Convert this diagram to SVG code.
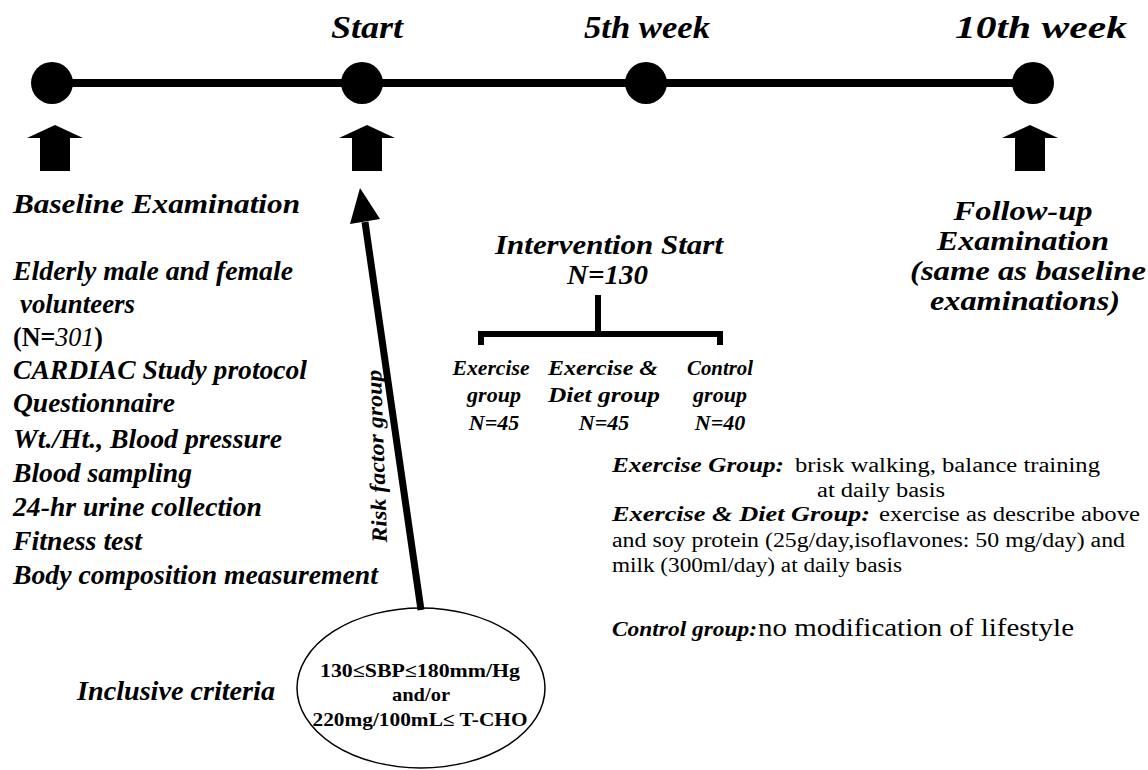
<svg xmlns="http://www.w3.org/2000/svg" width="1148" height="770" viewBox="0 0 1148 770">
<style>
text{font-family:"Liberation Serif","Times New Roman",serif;fill:#000}
.bi{font-weight:bold;font-style:italic}
.i{font-style:italic;font-weight:normal}
.r{font-weight:normal;font-style:normal;font-size:20px}
.b{font-weight:bold;font-size:19px}
.t{font-size:32px}
.m{font-size:27px}
.f{font-size:28px}
.g{font-size:22px}
.lab{font-size:22px}
.ctl{font-size:25px}
</style>
<defs>
<path id="blk" d="M0,0 L28,13 L15,13 L15,46 L-15,46 L-15,13 L-28,13 Z" fill="#000"/>
</defs>
<rect width="1148" height="770" fill="#fff"/>
<g id="connectors">
<line x1="52" y1="83" x2="1033" y2="83" stroke="#000" stroke-width="8"/>
<line x1="421" y1="610" x2="365" y2="222" stroke="#000" stroke-width="7"/>
<polygon points="360,188 380,219 350,224" fill="#000"/>
<g id="bracket" fill="#000">
<rect x="595" y="295" width="6" height="40"/>
<rect x="478" y="331" width="245" height="6"/>
<rect x="478" y="331" width="6" height="14"/>
<rect x="717" y="331" width="6" height="14"/>
</g>
</g>
<g id="tl-baseline"><circle cx="52" cy="83" r="21"/><use href="#blk" x="55" y="125"/></g>
<g id="tl-start"><circle cx="362" cy="83" r="21"/><use href="#blk" x="367" y="125"/><text class="bi t" x="331" y="38" textLength="72" lengthAdjust="spacingAndGlyphs">Start</text></g>
<g id="tl-5th"><circle cx="646" cy="83" r="21"/><text class="bi t" x="584" y="38" textLength="126" lengthAdjust="spacingAndGlyphs">5th week</text></g>
<g id="tl-10th"><circle cx="1033" cy="83" r="21"/><use href="#blk" x="1030" y="125"/><text class="bi t" x="955" y="38" textLength="172" lengthAdjust="spacingAndGlyphs">10th week</text></g>

<g id="baseline-exam">
<text class="bi m" x="13" y="213" textLength="287" lengthAdjust="spacingAndGlyphs">Baseline Examination</text>
<text class="bi m" x="13" y="280" textLength="280" lengthAdjust="spacingAndGlyphs">Elderly male and female</text>
<text class="bi m" x="20" y="313" textLength="115" lengthAdjust="spacingAndGlyphs">volunteers</text>
<text class="b m" x="13" y="346" textLength="90" lengthAdjust="spacingAndGlyphs">(N=<tspan class="i">301</tspan>)</text>
<text class="bi m" x="13" y="379" textLength="294" lengthAdjust="spacingAndGlyphs">CARDIAC Study protocol</text>
<text class="bi m" x="13" y="412" textLength="162" lengthAdjust="spacingAndGlyphs">Questionnaire</text>
<text class="bi m" x="13" y="448" textLength="269" lengthAdjust="spacingAndGlyphs">Wt./Ht., Blood pressure</text>
<text class="bi m" x="13" y="482" textLength="179" lengthAdjust="spacingAndGlyphs">Blood sampling</text>
<text class="bi m" x="13" y="516" textLength="249" lengthAdjust="spacingAndGlyphs">24-hr urine collection</text>
<text class="bi m" x="13" y="550" textLength="129" lengthAdjust="spacingAndGlyphs">Fitness test</text>
<text class="bi m" x="13" y="584" textLength="365" lengthAdjust="spacingAndGlyphs">Body composition measurement</text>
</g>

<g id="risk-label">
<text class="bi g" transform="translate(384,456) rotate(-92)" text-anchor="middle" textLength="173" lengthAdjust="spacingAndGlyphs">Risk factor group</text>
</g>

<g id="inclusive">
<text class="bi m" x="77" y="700" textLength="198" lengthAdjust="spacingAndGlyphs">Inclusive criteria</text>
</g>

<g id="criteria-ellipse">
<ellipse cx="421" cy="688" rx="124" ry="80" fill="none" stroke="#000" stroke-width="1.5"/>
<text class="b" x="420" y="677" text-anchor="middle" textLength="200" lengthAdjust="spacingAndGlyphs">130≤SBP≤180mm/Hg</text>
<text class="b" x="421" y="701" text-anchor="middle" textLength="58" lengthAdjust="spacingAndGlyphs">and/or</text>
<text class="b" x="420" y="726" text-anchor="middle" textLength="215" lengthAdjust="spacingAndGlyphs">220mg/100mL≤ T-CHO</text>
</g>

<g id="intervention">
<text class="bi m" x="495" y="254" textLength="228" lengthAdjust="spacingAndGlyphs">Intervention Start</text>
<text class="bi m" x="567" y="284" textLength="81" lengthAdjust="spacingAndGlyphs">N=130</text>
</g>

<g id="grp-ex">
<text class="bi g" x="491" y="375" text-anchor="middle" textLength="77" lengthAdjust="spacingAndGlyphs">Exercise</text>
<text class="bi g" x="494" y="402" text-anchor="middle">group</text>
<text class="bi g" x="494" y="430" text-anchor="middle">N=45</text>
</g>
<g id="grp-exdiet">
<text class="bi g" x="603" y="375" text-anchor="middle" textLength="110" lengthAdjust="spacingAndGlyphs">Exercise &amp;</text>
<text class="bi g" x="604" y="402" text-anchor="middle" textLength="112" lengthAdjust="spacingAndGlyphs">Diet  group</text>
<text class="bi g" x="604" y="430" text-anchor="middle">N=45</text>
</g>
<g id="grp-ctrl">
<text class="bi g" x="720" y="375" text-anchor="middle" textLength="66" lengthAdjust="spacingAndGlyphs">Control</text>
<text class="bi g" x="720" y="402" text-anchor="middle">group</text>
<text class="bi g" x="720" y="430" text-anchor="middle">N=40</text>
</g>

<g id="followup">
<text class="bi f" x="1023" y="220" text-anchor="middle" textLength="139" lengthAdjust="spacingAndGlyphs">Follow-up</text>
<text class="bi f" x="1023" y="250" text-anchor="middle" textLength="172" lengthAdjust="spacingAndGlyphs">Examination</text>
<text class="bi f" x="1028" y="280" text-anchor="middle" textLength="236" lengthAdjust="spacingAndGlyphs">(same as baseline</text>
<text class="bi f" x="1025" y="310" text-anchor="middle" textLength="190" lengthAdjust="spacingAndGlyphs">examinations)</text>
</g>

<g id="desc">
<text class="bi lab" x="612" y="472" textLength="172" lengthAdjust="spacingAndGlyphs">Exercise Group:</text>
<text class="r" x="795" y="472" textLength="305" lengthAdjust="spacingAndGlyphs">brisk walking, balance training</text>
<text class="r" x="817" y="497" textLength="128" lengthAdjust="spacingAndGlyphs">at daily basis</text>
<text class="bi lab" x="612" y="521" textLength="258" lengthAdjust="spacingAndGlyphs">Exercise &amp; Diet Group:</text>
<text class="r" x="879" y="521" textLength="261" lengthAdjust="spacingAndGlyphs">exercise as describe above</text>
<text class="r" x="612" y="547" textLength="513" lengthAdjust="spacingAndGlyphs">and soy protein (25g/day,isoflavones: 50 mg/day) and</text>
<text class="r" x="612" y="572" textLength="290" lengthAdjust="spacingAndGlyphs">milk (300ml/day) at daily basis</text>
<text class="bi lab" x="612" y="636" textLength="145" lengthAdjust="spacingAndGlyphs">Control group:</text>
<text class="r ctl" x="758" y="636" textLength="316" lengthAdjust="spacingAndGlyphs">no modification of lifestyle</text>
</g>
</svg>
